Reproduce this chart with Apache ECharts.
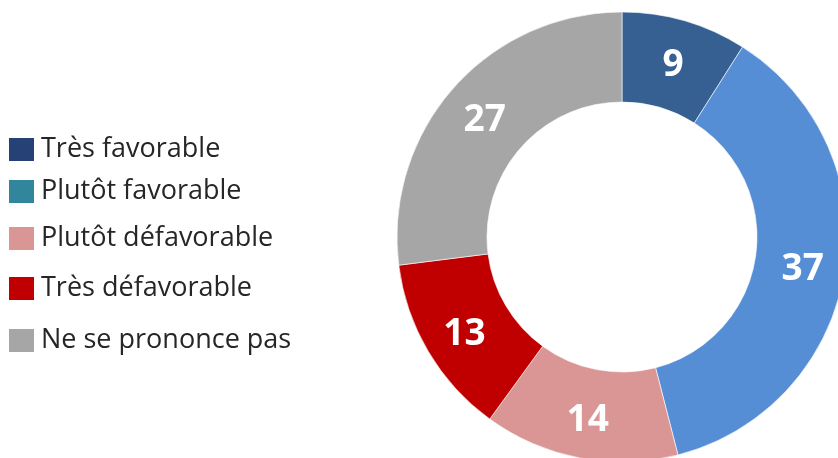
<!DOCTYPE html>
<html>
<head>
<meta charset="utf-8">
<style>
  html, body { margin: 0; padding: 0; background: #fff; }
  #chart { width: 838px; height: 458px; }
</style>
<script src="https://cdn.jsdelivr.net/npm/echarts@6/dist/echarts.min.js"></script>
</head>
<body>
<div id="chart"></div>
<script>
// données du sondage
var categories = ['Très favorable', 'Plutôt favorable', 'Plutôt défavorable', 'Très défavorable', 'Ne se prononce pas'];
var values = [9, 37, 14, 13, 27];
var sliceColors = ['#376092', '#558ED5', '#D99694', '#C00000', '#A6A6A6'];
var legendColors = ['#254175', '#31859C', '#D99694', '#C00000', '#A6A6A6'];
var legendTops = [136, 178, 225, 275, 327];

var chart = echarts.init(document.getElementById('chart'));

// une légende par ligne pour garder l'espacement d'origine
var legends = categories.map(function (name, i) {
    return {
        orient: 'vertical',
        left: 7,
        top: legendTops[i],
        padding: 0,
        itemWidth: 27,
        itemHeight: 25,
        itemGap: 0,
        icon: 'rect',
        selectedMode: false,
        textStyle: {
            fontFamily: 'Open Sans',
            fontSize: 27,
            color: '#262626',
            padding: [0, 0, 0, 1]
        },
        data: [{ name: name, itemStyle: { color: legendColors[i] } }]
    };
});

var option = {
    animation: false,
    legend: legends,
    series: [{
        type: 'pie',
        center: [622, 237],
        radius: [135, 225],
        startAngle: 90,
        clockwise: true,
        avoidLabelOverlap: false,
        itemStyle: {
            borderColor: '#ffffff',
            borderWidth: 0.6
        },
        label: {
            show: true,
            position: 'inside',
            formatter: '{c}',
            color: '#ffffff',
            fontFamily: 'Open Sans',
            fontWeight: 'bold',
            fontSize: 37
        },
        labelLayout: { dy: 4 },
        labelLine: { show: false },
        data: categories.map(function (name, i) {
            return { name: name, value: values[i], itemStyle: { color: sliceColors[i] } };
        })
    }]
};

chart.setOption(option);
</script>
</body>
</html>
